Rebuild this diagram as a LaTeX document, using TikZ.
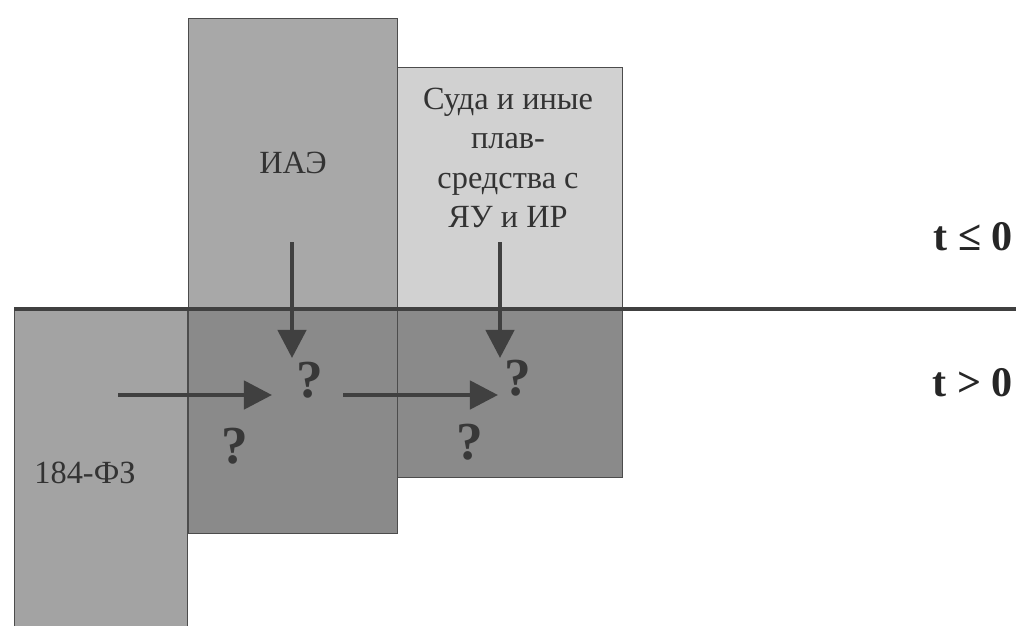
\documentclass[tikz,border=0pt]{standalone}
\usepackage{fontspec}
\setmainfont{Liberation Serif}
\usetikzlibrary{arrows.meta}

\definecolor{iaeFill}{gray}{0.66}
\definecolor{shipFill}{gray}{0.82}
\definecolor{lawFill}{gray}{0.64}
\definecolor{lowFill}{gray}{0.54}
\definecolor{inkGray}{gray}{0.25}

\begin{document}
\begin{tikzpicture}[x=0.025cm, y=-0.025cm,
  box/.style={draw=black!70, line width=0.6pt},
  lbl/.style={text=black!80, font=\fontsize{23}{28}\selectfont, align=center},
  tlbl/.style={text=black!85, font=\fontsize{30}{32}\selectfont\bfseries, anchor=east},
  qmark/.style={text=black!78, font=\fontsize{38}{38}\selectfont\bfseries},
  flow/.style={draw=inkGray, line width=3.2pt, -{Triangle[length=20pt,width=20pt]}}]
  \clip (0,0) rectangle (1019,625);

  % 184-FZ (present law)
  \draw[box, fill=lawFill] (14,309) rectangle (187,640);

  % IAE column
  \draw[box, fill=iaeFill] (188,18) rectangle (397,533);
  \draw[box, fill=lowFill] (188,309) rectangle (397,533);

  % ships column
  \draw[box, fill=shipFill] (397,67) rectangle (622,477);
  \draw[box, fill=lowFill] (397,309) rectangle (622,477);

  % time border t = 0
  \coordinate (lineL) at (14,309);
  \coordinate (lineR) at (1016,309);
  \draw[draw=inkGray, line width=3.2pt] (lineL) -- (lineR);

  % labels
  \node[lbl] (iae) at (293,163) {ИАЭ};
  \node[lbl] (ship) at (508,158) {Суда и иные\\плав-\\средства с\\ЯУ и ИР};
  \node[lbl] (law) at (85,473) {184-ФЗ};
  \node[tlbl] (tPast) at (1018,237) {t ≤ 0};
  \node[tlbl] (tFut) at (1018,383) {t > 0};

  % open questions
  \node[qmark] (q1) at (310,380) {?};
  \node[qmark] (q2) at (235,446) {?};
  \node[qmark] (q3) at (518,378) {?};
  \node[qmark] (q4) at (470,442) {?};

  % arrows
  \coordinate (iaeFrom) at (292,242);
  \coordinate (iaeTo) at (292,358);
  \coordinate (shipFrom) at (500,242);
  \coordinate (shipTo) at (500,358);
  \coordinate (lawFrom) at (118,395);
  \coordinate (lawTo) at (272,395);
  \coordinate (midFrom) at (343,395);
  \coordinate (midTo) at (498,395);
  \draw[flow] (iaeFrom) -- (iaeTo);
  \draw[flow] (shipFrom) -- (shipTo);
  \draw[flow] (lawFrom) -- (lawTo);
  \draw[flow] (midFrom) -- (midTo);
\end{tikzpicture}
\end{document}
